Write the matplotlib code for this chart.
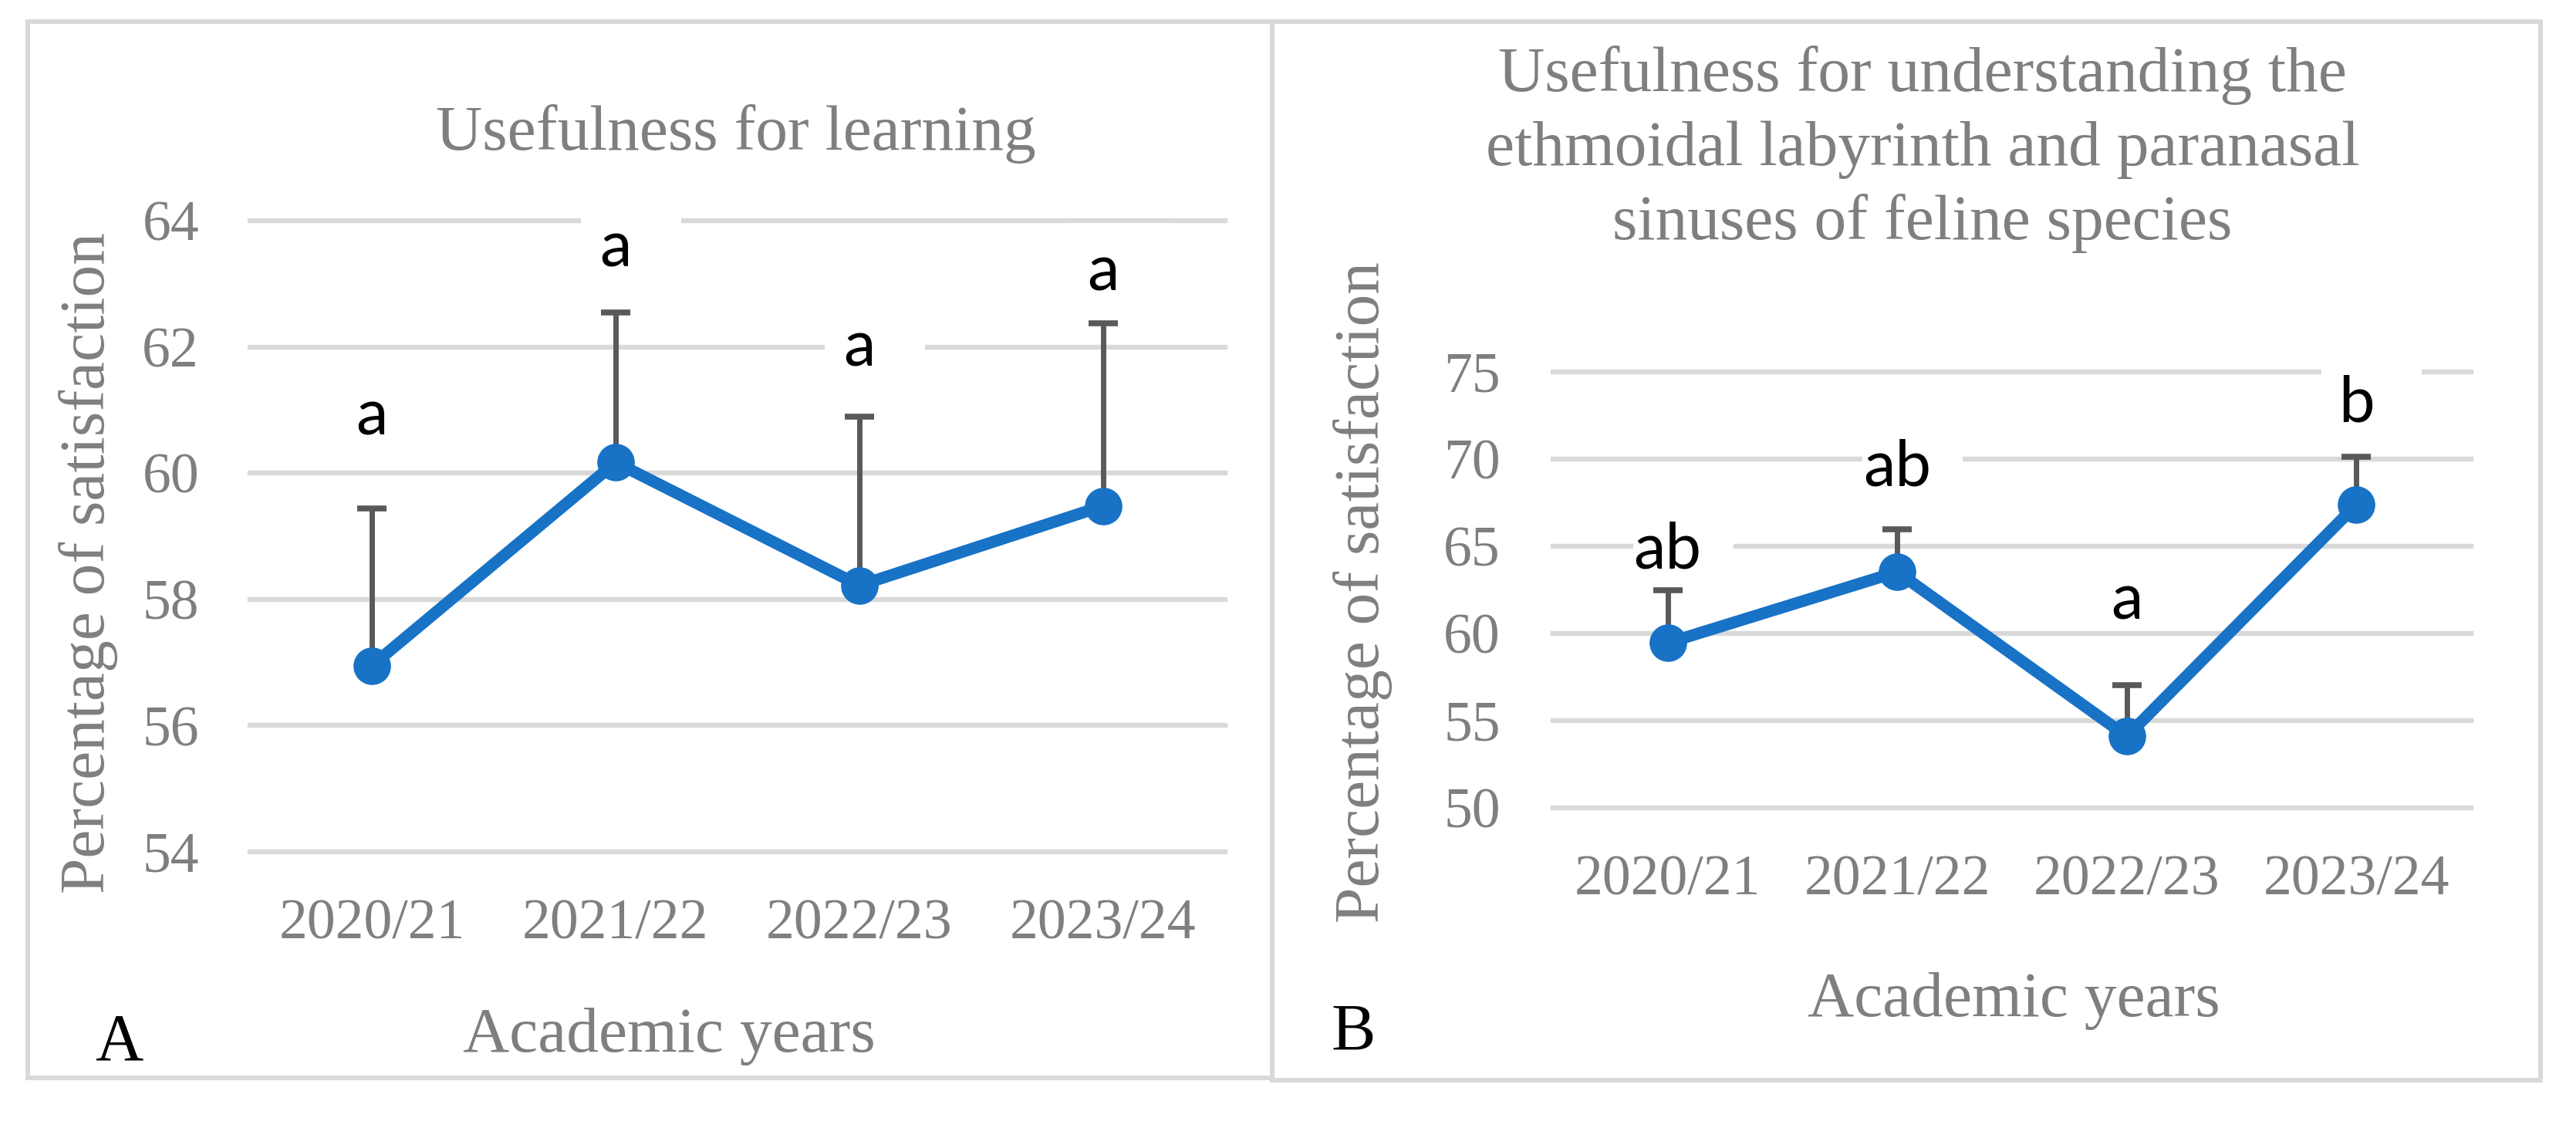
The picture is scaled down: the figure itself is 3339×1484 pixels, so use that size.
import matplotlib
matplotlib.use('Agg')
import matplotlib.pyplot as plt
import matplotlib.transforms as mtransforms
from matplotlib.patches import Rectangle
import numpy as np

# Two Excel-style line charts (satisfaction per academic year), panels A and B

W, H = 3339, 1484

years = ['2020/21', '2021/22', '2022/23', '2023/24']

# panel A - usefulness for learning
learning_mean = [56.95, 60.17, 58.22, 59.48]
learning_err = [2.49, 2.38, 2.67, 2.90]
learning_letters = ['a', 'a', 'a', 'a']
learning_letter_y = [60.61, 63.27, 61.70, 62.89]
learning_ticks = [54, 56, 58, 60, 62, 64]

# panel B - ethmoidal labyrinth and paranasal sinuses
sinus_mean = [59.46, 63.53, 54.10, 67.38]
sinus_err = [3.02, 2.43, 2.92, 2.74]
sinus_letters = ['ab', 'ab', 'a', 'b']
sinus_letter_y = [63.74, 68.48, 60.82, 72.16]
sinus_ticks = [50, 55, 60, 65, 70, 75]

titleA = 'Usefulness for learning'
titleB = ['Usefulness for understanding the',
          'ethmoidal labyrinth and paranasal',
          'sinuses of feline species']

BLUE = '#1872C6'
GREY_TXT = '#7f7f7f'
GRID = '#d9d9d9'
SERIF = 'Liberation Serif'

plt.rcParams['font.family'] = SERIF


def fx(x):
    return x / W


def fy(y):
    return 1 - y / H


fig = plt.figure(figsize=(W / 100, H / 100), dpi=100)
fig.patch.set_facecolor('white')


def makePanel(ax, means, errs, letters, letterY, ticks, ypad):

    """
        Draws one panel: upward error bars, thick blue line with markers, letter labels
    """

    x = np.arange(len(years))

    ax.errorbar(x, means, yerr=[np.zeros(len(errs)), errs], fmt='none',
                ecolor='#595959', elinewidth=5, capsize=14, capthick=5.5, zorder=2)
    ax.plot(x, means, color=BLUE, lw=11, marker='o', ms=34, zorder=3,
            solid_joinstyle='round', solid_capstyle='round')

    for i in range(len(x)):
        #white label box, cuts the gridlines like the excel data labels
        tr = fig.dpi_scale_trans + mtransforms.ScaledTranslation(x[i], letterY[i], ax.transData)
        ax.add_patch(Rectangle((-0.45, -0.04), 1.30, 0.92, transform=tr, facecolor='white',
                               edgecolor='none', zorder=1.5, clip_on=False))
        ax.text(x[i], letterY[i], letters[i], ha='center', va='baseline', fontsize=60,
                family='Lato', color='black', zorder=5)

    ax.set_xlim(-0.5, len(years) - 0.5)
    ax.set_ylim(ticks[0], ticks[-1])
    ax.set_yticks(ticks)
    ax.set_xticks(x)
    ax.set_xticklabels(years)

    ax.set_axisbelow(True)
    ax.yaxis.grid(True, color=GRID, lw=4.6)
    ax.xaxis.grid(False)
    for gl in ax.get_ygridlines():
        gl.set_clip_on(False)

    for s in ax.spines.values():
        s.set_visible(False)

    ax.tick_params(axis='both', length=0, labelsize=53, labelcolor=GREY_TXT)
    ax.tick_params(axis='y', pad=ypad)
    ax.tick_params(axis='x', pad=44)
    ax.patch.set_alpha(0)

    return


# outer frames
fig.add_artist(Rectangle((fx(36), fy(1397)), (1649 - 36) / W, (1397 - 28) / H,
                         transform=fig.transFigure, fill=False, edgecolor=GRID, lw=4.3))
fig.add_artist(Rectangle((fx(1649), fy(1400)), (3293 - 1649) / W, (1400 - 28) / H,
                         transform=fig.transFigure, fill=False, edgecolor=GRID, lw=4.3))

axA = fig.add_axes([fx(324), fy(1104), (1588 - 324) / W, (1104 - 286) / H])
makePanel(axA, learning_mean, learning_err, learning_letters, learning_letter_y, learning_ticks, 47.5)

axB = fig.add_axes([fx(2013), fy(1047), (3203 - 2013) / W, (1047 - 482) / H])
makePanel(axB, sinus_mean, sinus_err, sinus_letters, sinus_letter_y, sinus_ticks, 49)

# titles
fig.text(fx(954), fy(194), titleA, ha='center', va='baseline', fontsize=60, color=GREY_TXT)
for i, line in enumerate(titleB):
    fig.text(fx(2492), fy(118 + i * 96), line, ha='center', va='baseline', fontsize=60, color=GREY_TXT)

# axis labels
fig.text(fx(867), fy(1363), 'Academic years', ha='center', va='baseline', fontsize=60, color=GREY_TXT)
fig.text(fx(2610), fy(1317), 'Academic years', ha='center', va='baseline', fontsize=60, color=GREY_TXT)
fig.text(fx(135), fy(730), 'Percentage of satisfaction', rotation=90, rotation_mode='anchor',
         ha='center', va='baseline', fontsize=60, color=GREY_TXT)
fig.text(fx(1787), fy(768), 'Percentage of satisfaction', rotation=90, rotation_mode='anchor',
         ha='center', va='baseline', fontsize=60, color=GREY_TXT)

# panel letters
fig.text(fx(123), fy(1373), 'A', ha='left', va='baseline', fontsize=62, color='black')
fig.text(fx(1725), fy(1361), 'B', ha='left', va='baseline', fontsize=62, color='black')

fig.savefig('out.png', dpi=100, facecolor='white')
plt.close()
